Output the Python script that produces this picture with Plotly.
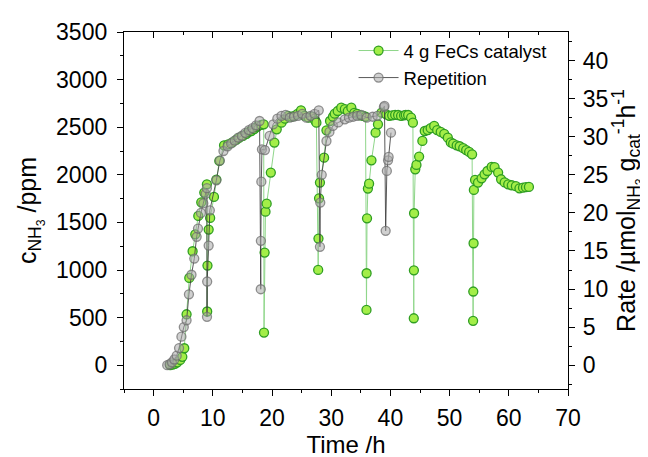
import plotly.graph_objects as go
import numpy as np

# ---- data ----
t_fecs = [2.8, 3.2, 3.6, 4.0, 4.5, 4.85, 5.18, 5.57, 6.03, 6.59, 7.04, 7.55, 8.05, 8.56, 9.0,
          9.05, 9.1, 9.3, 9.55, 10.2, 10.6, 11.1, 11.9, 12.6, 13.3, 14.0, 14.5, 15.1, 15.7, 16.1,
          16.5, 17.0, 17.4, 17.7, 18.2, 18.6, 18.65, 18.75, 18.9, 19.1, 19.8, 20.4, 20.8, 21.6,
          22.2, 22.7, 23.3, 23.8, 24.3, 24.9, 25.5, 26.2, 26.8, 27.3, 27.5, 27.8, 27.85, 27.95,
          28.1, 28.8, 29.2, 29.8, 30.3, 30.6, 31.1, 31.7, 32.3, 32.8, 33.4, 33.9, 34.4, 34.9,
          35.4, 35.8, 35.96, 35.98, 36.05, 36.2, 36.4, 36.8, 37.5, 37.9, 38.5, 39.3, 39.8, 40.3,
          40.8, 41.3, 41.8, 42.3, 42.6, 43.0, 43.5, 43.8, 43.95, 43.97, 44.0, 44.2, 44.4, 44.85,
          45.4, 45.8, 46.3, 46.8, 47.4, 47.9, 48.5, 49.1, 49.7, 50.2, 50.6, 51.2, 51.7, 52.3,
          52.8, 53.3, 53.8, 53.97, 54.0, 54.05, 54.1, 54.3, 54.8, 55.4, 55.9, 56.4, 57.1, 57.6,
          58.2, 58.7, 59.3, 59.9, 60.5, 61.2, 61.8, 62.4, 62.9, 63.4]
c_fecs = [0, 5, 15, 30, 55, 88, 178, 535, 917, 1197, 1375, 1568, 1711, 1813, 1900,
          564, 1047, 1425, 1547, 1768, 1950, 2146, 2310, 2320, 2340, 2370, 2390, 2408, 2430, 2450,
          2460, 2480, 2500, 2513, 2525, 2530, 343, 1183, 1613, 1697, 2023, 2338, 2478, 2548,
          2590, 2618, 2610, 2620, 2640, 2677, 2620, 2600, 2610, 2570, 2548, 1001, 1330, 1753,
          1918, 2180, 2467, 2565, 2610, 2642, 2670, 2705, 2690, 2670, 2705, 2650, 2640, 2625,
          2620, 2610, 581, 966, 1543, 1855, 1907, 2152, 2443, 2530, 2653, 2635, 2620, 2625,
          2630, 2628, 2620, 2625, 2630, 2628, 2600, 2548, 493, 997, 1596, 2058, 2104, 2191,
          2356, 2460, 2470, 2490, 2513, 2470, 2450, 2430, 2390, 2340, 2327, 2310, 2300, 2280,
          2260, 2240, 2215, 466, 774, 1281, 1841, 1946, 1918, 1963, 2005, 2040, 2083, 2080,
          2023, 1953, 1920, 1900, 1890, 1880, 1858, 1865, 1870, 1873]

t_rep = [2.3, 2.7, 3.1, 3.5, 3.9, 4.3, 4.7, 5.1, 5.57, 5.97, 6.4, 6.87, 7.27, 7.5, 8.0, 8.4, 8.8,
         9.0, 9.02, 9.05, 9.3, 9.5, 10.6, 11.2, 11.8, 12.5, 13.1, 13.7, 14.3, 14.9, 15.5, 16.1,
         16.7, 17.3, 17.9, 18.1, 18.12, 18.2, 18.3, 18.8, 19.6, 20.2, 20.9, 21.6, 22.3, 23.0,
         23.7, 24.4, 25.1, 25.8, 26.5, 27.2, 27.9, 28.1, 28.15, 28.4, 29.2, 29.7, 30.3, 31.2,
         32.3, 33.0, 33.7, 34.4, 35.1, 36.0, 37.0, 37.8, 38.9, 39.0, 39.2, 39.4, 39.6, 39.7,
         40.1]
c_rep = [0, 10, 30, 60, 100, 180, 300, 400, 472, 745, 950, 1120, 1348, 1435, 1600, 1700, 1800,
         1860, 508, 879, 1257, 1627, 1942, 2150, 2250, 2300, 2330, 2360, 2390, 2410, 2440, 2470,
         2490, 2520, 2565, 798, 1306, 1928, 2268, 2260, 2408, 2530, 2590, 2618, 2630, 2600,
         2610, 2620, 2640, 2600, 2620, 2640, 2677, 1243, 1708, 2000, 2355, 2450, 2513, 2550,
         2583, 2600, 2610, 2620, 2628, 2600, 2610, 2620, 2712, 2723, 1411, 2041, 2152, 2188,
         2443]

ppm_per_rate = 80.0   # conversion between left (ppm) and right (rate) axes
y_range = [-250, 3500]
x_range = [-5, 70]

FONT = "Liberation Sans, Arial, sans-serif"

fig = go.Figure()

fig.add_trace(go.Scatter(
    x=t_fecs, y=c_fecs, mode="lines+markers", name="4 g FeCs catalyst",
    line=dict(color="#8fd68a", width=1),
    marker=dict(symbol="circle", size=9, color="#a3ee48",
                line=dict(color="#2f9e22", width=1.3)),
))
fig.add_trace(go.Scatter(
    x=t_rep, y=c_rep, mode="lines+markers", name="Repetition",
    line=dict(color="rgba(60,60,60,0.85)", width=1),
    marker=dict(symbol="circle", size=9, color="rgba(170,170,170,0.55)",
                line=dict(color="rgba(110,110,110,0.75)", width=1.3)),
))
# invisible traces to carry the right (rate) axis and the top axis
fig.add_trace(go.Scatter(
    x=t_fecs, y=np.array(c_fecs) / ppm_per_rate, yaxis="y2", mode="markers",
    marker=dict(opacity=0), showlegend=False, hoverinfo="skip"))
fig.add_trace(go.Scatter(
    x=t_fecs, y=c_fecs, xaxis="x2", mode="markers",
    marker=dict(opacity=0), showlegend=False, hoverinfo="skip"))

axis_common = dict(showline=True, linecolor="black", linewidth=1.3, showgrid=False,
                   zeroline=False, tickcolor="black", tickwidth=1.3, automargin=False,
                   tickfont=dict(family=FONT, size=23, color="black"))

fig.update_layout(
    width=648, height=457,
    margin=dict(l=116, r=88, t=24, b=76),
    paper_bgcolor="white", plot_bgcolor="white",
    font=dict(family=FONT, color="black"),
    xaxis=dict(range=x_range, dtick=10, tick0=0, ticks="outside", ticklen=6,
               minor=dict(dtick=5, tick0=0, ticks="outside", ticklen=3,
                          tickcolor="black", tickwidth=1.2),
               title=dict(text="Time /h", font=dict(family=FONT, size=24), standoff=0),
               ticklabelstandoff=2,
               **axis_common),
    xaxis2=dict(range=x_range, overlaying="x", side="top", anchor="y", dtick=10, tick0=0,
                ticks="inside", ticklen=6, showticklabels=False,
                minor=dict(dtick=5, tick0=0, ticks="inside", ticklen=3,
                           tickcolor="black", tickwidth=1.2),
                **{k: v for k, v in axis_common.items() if k != "tickfont"}),
    yaxis=dict(range=y_range, dtick=500, tick0=0, ticks="outside", ticklen=6,
               minor=dict(dtick=250, tick0=0, ticks="outside", ticklen=3,
                          tickcolor="black", tickwidth=1.2),
               title=dict(text="c<sub>NH<sub>3</sub></sub> /ppm",
                          font=dict(family=FONT, size=25), standoff=12),
               ticklabelstandoff=5,
               **axis_common),
    yaxis2=dict(range=[y_range[0] / ppm_per_rate, y_range[1] / ppm_per_rate],
                overlaying="y", side="right", anchor="x", dtick=5, tick0=0,
                ticks="outside", ticklen=6,
                minor=dict(dtick=2.5, tick0=0, ticks="outside", ticklen=3,
                           tickcolor="black", tickwidth=1.2),
                title=dict(text="Rate /µmol<sub>NH<sub>3</sub></sub> g<sub>cat</sub><sup>-1</sup>h<sup>-1</sup>",
                           font=dict(family=FONT, size=25), standoff=6),
                ticklabelstandoff=3,
                **axis_common),
    legend=dict(x=0.517, y=1.0, xanchor="left", yanchor="top",
                bgcolor="rgba(0,0,0,0)", borderwidth=0,
                font=dict(family=FONT, size=18.5), itemwidth=40,
                tracegroupgap=0),
    showlegend=True,
)

fig.write_html("out.html")
